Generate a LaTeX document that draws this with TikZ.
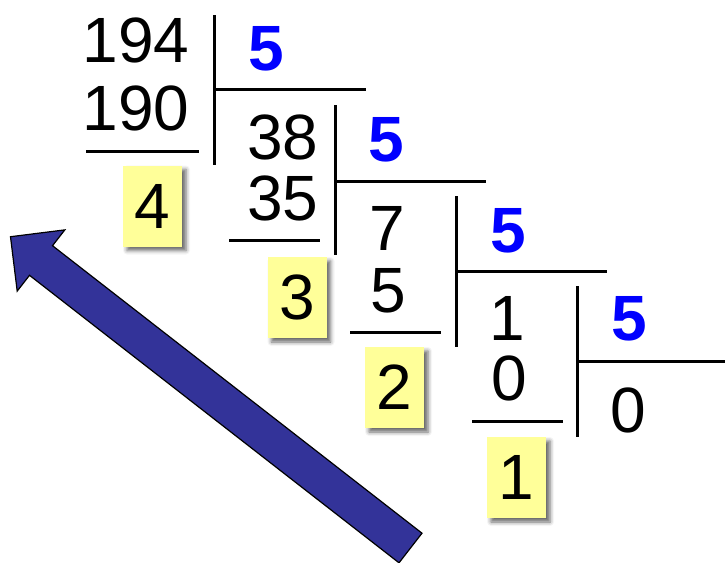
\documentclass[tikz,border=0pt]{standalone}
\usepackage{fontspec}
\setmainfont{Liberation Sans}
\usepackage{tikz}
\usetikzlibrary{positioning, calc, shadows, shadows.blur}
\usepackage{xcolor}
\definecolor{remyellow}{HTML}{FFFF99}
\definecolor{divblue}{HTML}{0000FF}
\definecolor{arrowblue}{HTML}{333399}

\begin{document}
\begin{tikzpicture}[x=1pt, y=-1pt,
        num/.style={inner sep=0pt, anchor=base, font=\fontsize{64}{64}\selectfont},
        divisor/.style={num, text=divblue, font=\fontsize{64}{64}\selectfont\bfseries},
        rem/.style={fill=remyellow, minimum width=59pt, minimum height=81pt, inner sep=0pt, font=\fontsize{64}{64}\selectfont, blur shadow={shadow xshift=4pt, shadow yshift=-4pt, shadow blur radius=4pt, shadow opacity=60}},
        bar/.style={line width=3pt}]
        \useasboundingbox (0,0) rectangle (725,562);

        % big arrow pointing back to the first remainder
        \filldraw [fill=arrowblue, draw=black, line width=1.2pt, line join=miter]
            (10.5,236.7) -- (64.8,229.9) -- (52.5,245.7) -- (422.0,533.2)
            -- (399.0,562.8) -- (29.5,275.3) -- (17.2,291.1) -- cycle;

        % step 1: 194 : 5
        \node [num] (a194) at (136,62) {194};
        \node [num] (a190) at (136,130) {190};
        \node [divisor] (d1) at (266,70) {5};
        \node [rem] (r4) at (152.5,206) {4};
        \draw [bar] (86,151) -- (199,151);
        \draw [bar] (214,15) -- (214,165);
        \draw [bar] (214,89) -- (366,89);

        % step 2: 38 : 5
        \node [num] (b38) at (283,159) {38};
        \node [num] (b35) at (283,220) {35};
        \node [divisor] (d2) at (386.5,161) {5};
        \node [rem] (r3) at (297,297.5) {3};
        \draw [bar] (229,240) -- (320,240);
        \draw [bar] (335,105) -- (335,255);
        \draw [bar] (335,181) -- (486,181);

        % step 3: 7 : 5
        \node [num] (c7) at (387,250) {7};
        \node [num] (c5) at (388,312) {5};
        \node [divisor] (d3) at (508,252) {5};
        \node [rem] (r2) at (394.5,387.5) {2};
        \draw [bar] (350,332) -- (441,332);
        \draw [bar] (456,196) -- (456,347);
        \draw [bar] (456,271) -- (607,271);

        % step 4: 1 : 5
        \node [num] (e1) at (507.5,340) {1};
        \node [num] (e0) at (509.5,400) {0};
        \node [divisor] (d4) at (629,340) {5};
        \node [rem] (r1) at (516.5,477.5) {1};
        \node [num] (q0) at (628.5,432) {0};
        \draw [bar] (472,421) -- (563,421);
        \draw [bar] (577,286) -- (577,437);
        \draw [bar] (577,361) -- (725,361);
    \end{tikzpicture}
\end{document}
